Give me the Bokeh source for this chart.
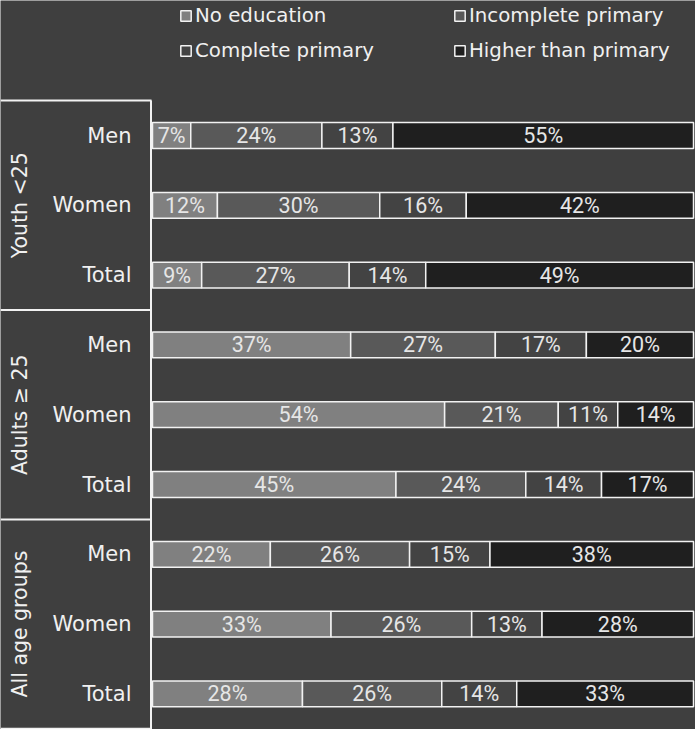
import math
from bokeh.plotting import figure
from bokeh.models import ColumnDataSource, Range1d
from bokeh.core.properties import value
from bokeh.embed import file_html
from bokeh.resources import INLINE

# ---------------- data ----------------
groups = ["Youth <25", "Adults \u2265 25", "All age groups"]
subgroups = ["Men", "Women", "Total"]
categories = ["No education", "Incomplete primary", "Complete primary", "Higher than primary"]
# rows: Youth Men, Youth Women, Youth Total, Adults Men, ..., All Total
no_education = [7, 12, 9, 37, 54, 45, 22, 33, 28]
incomplete_primary = [24, 30, 27, 27, 21, 24, 26, 26, 26]
complete_primary = [13, 16, 14, 17, 11, 14, 15, 13, 14]
higher_than_primary = [55, 42, 49, 20, 14, 17, 38, 28, 33]

# ---------------- style / layout ----------------
W, H = 695, 729
BG = "#3f3f3f"
COLORS = ["#808080", "#595959", "#434343", "#1f1f1f"]
LINE = "#f2f2f2"
TEXT = "#f0f0f0"
X0_PX, XW_PX = 152.0, 541.0          # pixel of 0% and width of 100%
Y0_PX, RH_PX = 100.1, 69.8           # pixel of top row edge, row height


def px_x(px):
    return (px - X0_PX) / XW_PX


def px_y(px):
    return (px - Y0_PX) / RH_PX - 0.5


series = [no_education, incomplete_primary, complete_primary, higher_than_primary]
n_rows = len(no_education)
totals = [sum(s[i] for s in series) for i in range(n_rows)]
rows = list(range(n_rows))

p = figure(width=W, height=H, output_backend="svg", toolbar_location=None,
           x_range=Range1d(px_x(0), px_x(W)), y_range=Range1d(px_y(H), px_y(0)),
           min_border=0, background_fill_color=BG, border_fill_color=BG,
           outline_line_color=None)
p.axis.visible = False
p.grid.visible = False

cum = [0.0] * n_rows
for name, vals, col in zip(categories, series, COLORS):
    left = [cum[i] / totals[i] for i in rows]
    right = [(cum[i] + vals[i]) / totals[i] for i in rows]
    cum = [cum[i] + vals[i] for i in rows]
    src = ColumnDataSource(dict(
        y=rows, left=left, right=right,
        xc=[(a + b) / 2 for a, b in zip(left, right)],
        label=[f"{v}%" for v in vals]))
    p.hbar(y="y", left="left", right="right", height=0.37, source=src,
           fill_color=col, line_color=LINE, line_width=1.5, legend_label=name)
    p.text(x="xc", y="y", text="label", source=src, text_align="center",
           text_baseline="middle", text_font=value("Roboto"),
           text_font_size="21.5px", text_color="#e6e6e6")

# subgroup labels
sub_src = ColumnDataSource(dict(
    x=[px_x(131)] * n_rows, y=rows,
    t=[subgroups[i % 3] for i in rows]))
p.text(x="x", y="y", text="t", source=sub_src, text_align="right",
       text_baseline="middle", text_font=value("DejaVu Sans"),
       text_font_size="21px", text_color=TEXT)

# group labels (vertical)
grp_src = ColumnDataSource(dict(
    x=[px_x(19)] * len(groups),
    y=[g * 3 + 1 for g in range(len(groups))],
    t=groups))
p.text(x="x", y="y", text="t", source=grp_src, angle=math.pi / 2,
       text_align="center", text_baseline="middle",
       text_font=value("DejaVu Sans"), text_font_size="20.5px", text_color=TEXT)

# group separator lines and axis line
bounds = [g * 3 - 0.5 for g in range(len(groups) + 1)]
p.segment(x0=[px_x(0)] * len(bounds), x1=[px_x(151)] * len(bounds),
          y0=bounds, y1=bounds, line_color=LINE, line_width=2)
p.segment(x0=[px_x(150.5)], x1=[px_x(150.5)], y0=[bounds[0]], y1=[px_y(H)],
          line_color=LINE, line_width=2)

# legend
lg = p.legend[0]
lg.orientation = "horizontal"
lg.ncols = 2
lg.location = (179, H - 62)
lg.background_fill_alpha = 0
lg.border_line_color = None
lg.label_text_font = "DejaVu Sans"
lg.label_text_font_size = "19.8px"
lg.label_text_color = TEXT
lg.glyph_width = 13
lg.glyph_height = 13
lg.label_standoff = 3
lg.label_height = 20
lg.label_width = 246
lg.spacing = 12
lg.padding = 2
lg.margin = 0

open("out.html", "w").write(file_html(p, INLINE))
